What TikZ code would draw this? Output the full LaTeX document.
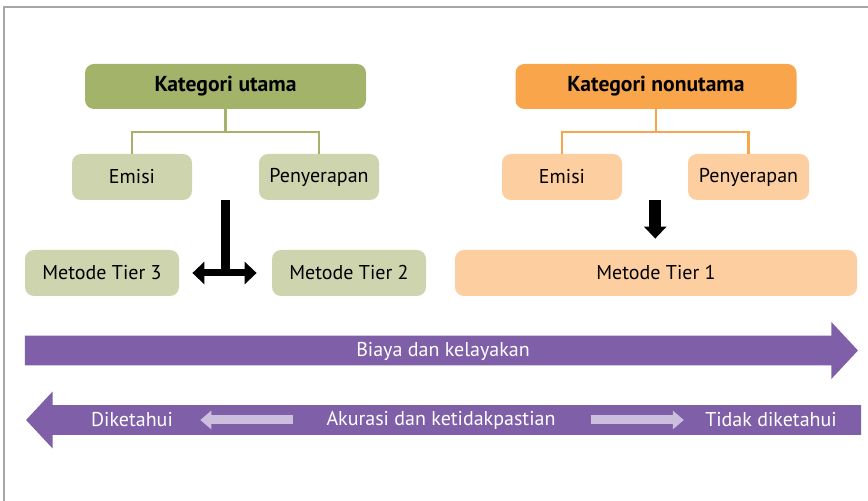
\documentclass[tikz,border=0pt]{standalone}
\usepackage{fontspec}
\setmainfont{PT Sans}
\usetikzlibrary{arrows.meta,shapes.arrows,calc}

\definecolor{ijotua}{HTML}{A3B46A}
\definecolor{ijomuda}{HTML}{CDD4AE}
\definecolor{oranyetua}{HTML}{F9A54B}
\definecolor{oranyemuda}{HTML}{FDCEA0}
\definecolor{ungu}{HTML}{7F5FA8}
\definecolor{ungumuda}{HTML}{CBBFDD}

\tikzset{
  kotak/.style={rounded corners=4.5pt, minimum height=23pt, inner sep=0pt,
    font=\fontsize{10}{12}\selectfont},
  judul/.style={kotak, minimum height=22.5pt, minimum width=140.5pt, font=\fontsize{10.8}{12}\selectfont\bfseries},
  garis/.style={line width=1.4pt},
  panah/.style={single arrow, fill=ungu, draw=none, minimum width=28pt,
    text height=10.5pt, text depth=4pt,
    single arrow head extend=6.75pt, single arrow tip angle=94, inner sep=0pt},
  teksputih/.style={text=white, inner sep=0pt, font=\fontsize{10}{12}\selectfont},
  panahmuda/.style={draw=ungumuda, line width=4.5pt, -{Triangle[width=9pt,length=5.5pt]}},
}

\begin{document}
\begin{tikzpicture}[x=0.5pt,y=-0.5pt]
\useasboundingbox (0,0) rectangle (868,501);
\draw[gray!70, line width=1pt] (4,501) -- (4,7) -- (868,7);

% kategori utama
\node[judul, fill=ijotua] (ku) at (225.5,86.5) {Kategori utama};
\node[kotak, fill=ijomuda, minimum width=60pt] (e1) at (132,177) {Emisi};
\node[kotak, fill=ijomuda, minimum width=60pt] (p1) at (319,177) {Penyerapan};
\node[kotak, fill=ijomuda, minimum width=77pt] (t3) at (102,273) {Metode Tier 3};
\node[kotak, fill=ijomuda, minimum width=77pt] (t2) at (349,273) {Metode Tier 2};

% kategori nonutama
\node[judul, fill=oranyetua] (kn) at (656,86.5) {Kategori nonutama};
\node[kotak, fill=oranyemuda, minimum width=60pt] (e2) at (562,177) {Emisi};
\node[kotak, fill=oranyemuda, minimum width=60.5pt] (p2) at (748.5,177) {Penyerapan};
\node[kotak, fill=oranyemuda, minimum width=201pt] (t1) at (656,273) {Metode Tier 1};

\coordinate (cu) at (ku.south |- 0,132);
\coordinate (cn) at (kn.south |- 0,132);
\draw[garis, ijotua] (ku.south) -- (cu);
\draw[garis, ijotua] (e1.north) |- (cu) -| (p1.north);
\draw[garis, oranyetua] (kn.south) -- (cn);
\draw[garis, oranyetua] (e2.north) |- (cn) -| (p2.north);

% panah hitam
\coordinate (pisah1) at ($(e1.south)!0.5!(p1.south)$);
\coordinate (pisah2) at ($(e2.south)!0.5!(p2.south)$);
\draw[line width=4.5pt] (pisah1) -- (pisah1 |- t3.center);
\draw[line width=3.5pt, {Triangle[width=11pt,length=6pt]}-{Triangle[width=11pt,length=6pt]},
  shorten <=6.5pt, shorten >=7.5pt] (t3.east) -- (t2.west);
\draw[line width=6pt, -{Triangle[width=11pt,length=6pt]}, shorten >=5.5pt] (pisah2) -- (pisah2 |- t1.north);

% panah ungu
\node[panah, minimum height=416.5pt] (biayapanah) at (434.5,350.5) {};
\node[teksputih] (biaya) at (443,351) {Biaya dan kelayakan};
\node[panah, minimum height=417.5pt, shape border rotate=180] (akurasipanah) at (450.5,420) {};
\node[teksputih] (tahu) at (132,420) {Diketahui};
\node[teksputih] (akurasi) at (441,420) {Akurasi dan ketidakpastian};
\node[teksputih] (tidak) at (771,420) {Tidak diketahui};
\draw[panahmuda, shorten <=16.5pt, shorten >=13.5pt] (akurasi.west) -- (tahu.east);
\draw[panahmuda, shorten <=17.5pt, shorten >=10.5pt] (akurasi.east) -- (tidak.west);
\end{tikzpicture}
\end{document}
